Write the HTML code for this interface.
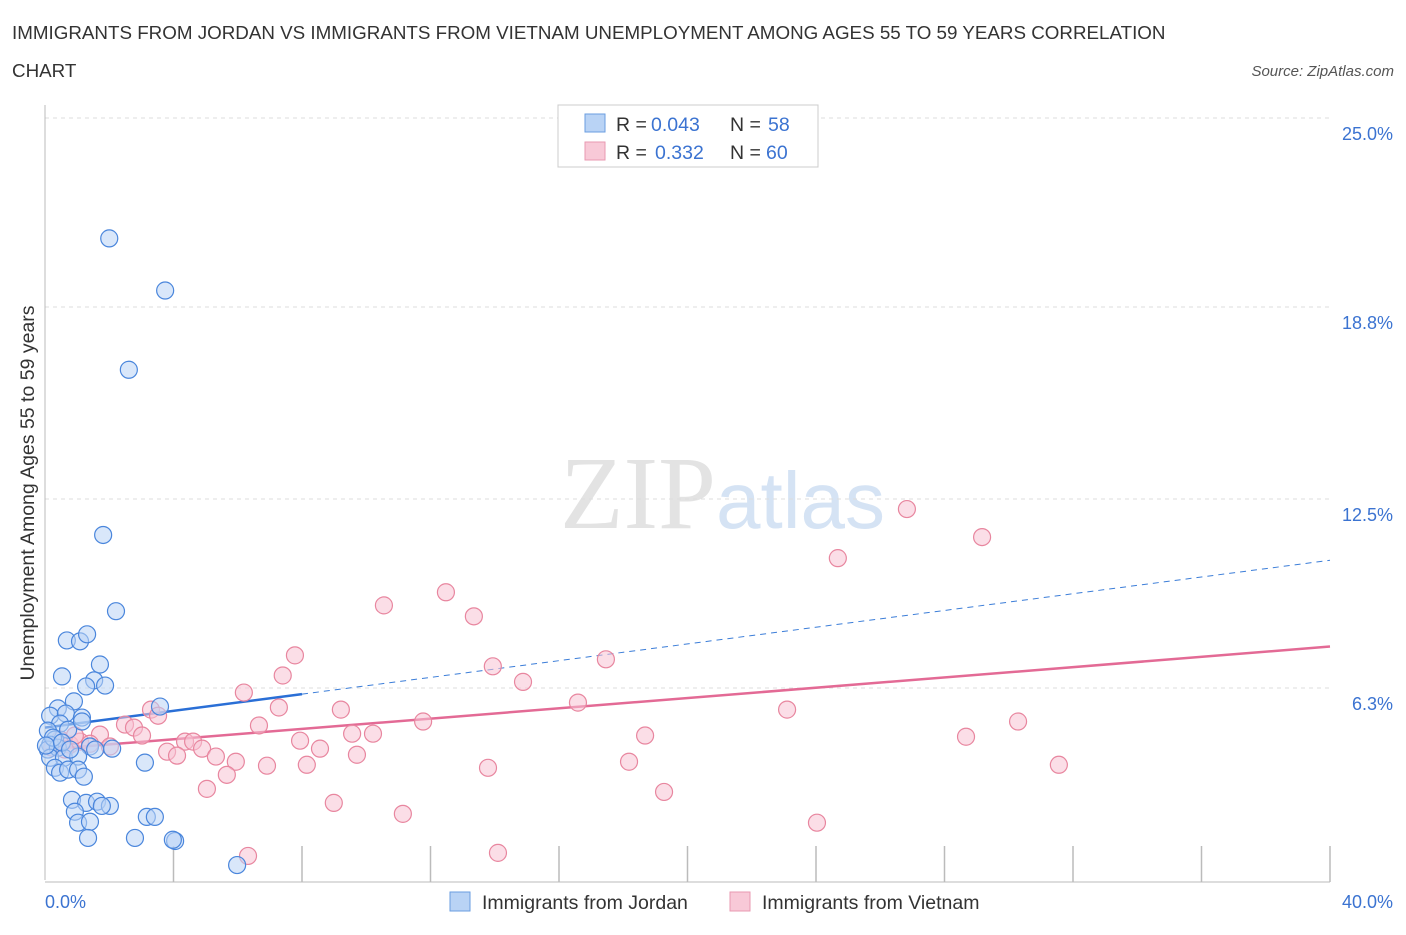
<!DOCTYPE html>
<html><head><meta charset="utf-8"><style>
body{margin:0;background:#fff;font-family:"Liberation Sans",sans-serif;}
</style></head><body>
<svg id="chart" width="1406" height="930" xmlns="http://www.w3.org/2000/svg" font-family="Liberation Sans, sans-serif">
<text x="12" y="39" font-size="18.8" fill="#333">IMMIGRANTS FROM JORDAN VS IMMIGRANTS FROM VIETNAM UNEMPLOYMENT AMONG AGES 55 TO 59 YEARS CORRELATION</text>
<text x="12" y="77" font-size="18.8" fill="#333">CHART</text>
<text x="1394" y="76" font-size="15" fill="#555" text-anchor="end" font-style="italic">Source: ZipAtlas.com</text>
<text x="716" y="528" font-size="104" text-anchor="end" fill="#e3e3e3" font-family="Liberation Serif, serif">ZIP</text>
<text x="716" y="528" font-size="80" fill="#d5e3f4">atlas</text>
<text transform="translate(34,493) rotate(-90)" font-size="19.5" fill="#333" text-anchor="middle">Unemployment Among Ages 55 to 59 years</text>
<g id="grid"></g><g id="axes"></g><g id="trend"></g><g id="pts"></g>
<g>
<rect x="558" y="105" width="260" height="62" fill="#fff" stroke="#ccc"/>
<rect x="585" y="114" width="20" height="18" fill="#b9d3f5" stroke="#6a9ee0"/>
<text x="616" y="131" font-size="19.5" fill="#333">R =</text>
<text x="651" y="131" font-size="19.5" fill="#3b73d1">0.043</text>
<text x="730" y="131" font-size="19.5" fill="#333">N =</text>
<text x="768" y="131" font-size="19.5" fill="#3b73d1">58</text>
<rect x="585" y="142" width="20" height="18" fill="#f8c9d7" stroke="#e899b2"/>
<text x="616" y="159" font-size="19.5" fill="#333">R =</text>
<text x="655" y="159" font-size="19.5" fill="#3b73d1">0.332</text>
<text x="730" y="159" font-size="19.5" fill="#333">N =</text>
<text x="766" y="159" font-size="19.5" fill="#3b73d1">60</text>
</g>
<g>
<rect x="450" y="892" width="20" height="19" fill="#b9d3f5" stroke="#6a9ee0"/>
<text x="482" y="909" font-size="19.5" fill="#333">Immigrants from Jordan</text>
<rect x="730" y="892" width="20" height="19" fill="#f8c9d7" stroke="#e899b2"/>
<text x="762" y="909" font-size="19.5" fill="#333">Immigrants from Vietnam</text>
</g>
</svg>
<script>
const yTicks=[6.3,12.5,18.8,25.0];
const xTickLabels=["0.0%","40.0%"];
const jordanX=[2.0,3.74,2.61,1.81,2.21,0.68,1.09,1.31,1.71,0.53,1.53,1.87,1.28,0.9,0.4,3.58,0.16,0.65,1.15,0.47,0.09,0.72,1.15,0.31,0.16,0.09,0.40,1.40,2.09,1.56,0.16,0.59,1.03,3.11,0.31,0.47,0.72,1.03,1.21,0.84,1.28,1.62,2.02,1.77,0.93,1.03,1.40,1.34,2.80,3.17,3.42,4.05,3.98,5.98,0.25,0.03,0.53,0.78];
const jordanY=[21.05,19.34,16.74,11.32,8.82,7.86,7.83,8.06,7.07,6.68,6.55,6.38,6.35,5.86,5.63,5.69,5.39,5.46,5.33,5.13,4.9,4.93,5.2,4.61,4.44,4.28,4.34,4.38,4.31,4.28,4.01,4.01,4.05,3.85,3.68,3.52,3.62,3.62,3.39,2.63,2.53,2.57,2.43,2.43,2.24,1.88,1.91,1.38,1.38,2.07,2.07,1.28,1.32,0.49,4.67,4.41,4.51,4.28];
const vietnamX=[26.83,29.17,24.68,12.48,10.55,13.35,7.78,17.46,13.94,7.4,14.88,6.19,16.59,7.28,3.30,3.52,9.21,23.1,2.49,2.77,6.66,11.77,30.29,10.21,9.56,7.94,18.68,28.67,1.71,3.02,4.36,4.61,4.89,3.80,4.11,8.56,9.71,5.32,5.94,6.91,8.15,13.79,18.18,31.56,5.66,5.04,19.27,8.99,11.14,24.03,14.1,6.32,0.47,0.78,1.09,1.40,0.22,2.02,0.62,0.93];
const vietnamY=[12.17,11.25,10.56,9.44,9.01,8.65,7.37,7.24,7.01,6.71,6.5,6.15,5.82,5.66,5.59,5.39,5.59,5.59,5.1,5.0,5.07,5.2,5.2,4.8,4.8,4.57,4.74,4.7,4.77,4.74,4.54,4.54,4.31,4.21,4.08,4.31,4.11,4.05,3.88,3.75,3.78,3.68,3.88,3.78,3.45,2.99,2.89,2.53,2.17,1.88,0.89,0.79,4.61,4.44,4.54,4.47,4.34,4.38,4.28,4.74];
const trendBlue=[5.0,10.49], trendPink=[4.28,7.66];
const NS="http://www.w3.org/2000/svg";
const X0=45,X1=1330,Y0=880,Y1=118;
const sx=v=>X0+v/40*(X1-X0), sy=v=>Y0-v/25*(Y0-Y1);
function mk(t,a,p){const e=document.createElementNS(NS,t);for(const k in a)e.setAttribute(k,a[k]);document.getElementById(p).appendChild(e);return e;}
yTicks.forEach(t=>{
 const l=mk('line',{x1:X0,x2:X1,y1:sy(t),y2:sy(t),stroke:'#ddd','stroke-dasharray':'4,4'},'grid');
 
 
 const tx=mk('text',{x:1393,y:sy(t)+22,'font-size':18,fill:'#3b73d1','text-anchor':'end'},'grid');
 tx.textContent=t.toFixed(1)+'%';
 
 
});
let ax=mk('line',{x1:X0,x2:X0,y1:105,y2:Y0,stroke:'#bbb'},'axes');

ax=mk('line',{x1:X0,x2:X1,y1:Y0+2,y2:Y0+2,stroke:'#bbb'},'axes');

for(let i=1;i<=10;i++){const tk=mk('line',{x1:sx(i*4),x2:sx(i*4),y1:846,y2:Y0+2,stroke:'#bbb','stroke-width':1.5},'axes');
 }
let t0=mk('text',{x:45,y:908,'font-size':18,fill:'#3b73d1'},'axes');t0.textContent=xTickLabels[0];

t0=mk('text',{x:1393,y:908,'font-size':18,fill:'#3b73d1','text-anchor':'end'},'axes');t0.textContent=xTickLabels[1];

function pts(xs,ys,fill,stroke,name){xs.forEach((x,i)=>{const c=mk('circle',{cx:sx(x),cy:sy(ys[i]),r:8.5,fill:fill,'fill-opacity':0.55,stroke:stroke,'stroke-width':1.2},'pts');
 });}
pts(vietnamX,vietnamY,'#f7c3d3','#e8869f','vietnam-point');
pts(jordanX,jordanY,'#b9d3f5','#4a86dc','jordan-point');
const bm=trendBlue[0]+(trendBlue[1]-trendBlue[0])*8/40;
let ln=mk('line',{x1:sx(8),y1:sy(bm),x2:sx(40),y2:sy(trendBlue[1]),stroke:'#3b7dd8','stroke-width':1,'stroke-dasharray':'6,5'},'trend');

ln=mk('line',{x1:sx(0),y1:sy(trendBlue[0]),x2:sx(8),y2:sy(bm),stroke:'#2a6fd6','stroke-width':2.5},'trend');

ln=mk('line',{x1:sx(0),y1:sy(trendPink[0]),x2:sx(40),y2:sy(trendPink[1]),stroke:'#e36a95','stroke-width':2.5},'trend');

</script>
</body></html>
